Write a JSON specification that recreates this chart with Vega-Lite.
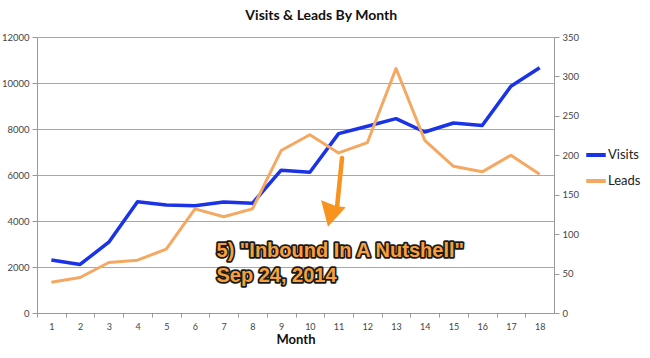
{
  "$schema": "https://vega.github.io/schema/vega-lite/v6.json",
  "width": 517,
  "height": 276,
  "padding": {"left": 1, "top": 9, "right": 5, "bottom": 5},
  "background": "white",
  "title": {"text": "Visits & Leads By Month", "font": "Lato", "fontSize": 14, "fontWeight": "bold", "color": "#111", "anchor": "middle", "frame": "bounds", "offset": 9},
  "datasets": {
    "series": [
      {"month": 1, "series": "Visits", "value": 2300},
      {"month": 2, "series": "Visits", "value": 2110},
      {"month": 3, "series": "Visits", "value": 3080},
      {"month": 4, "series": "Visits", "value": 4840},
      {"month": 5, "series": "Visits", "value": 4700},
      {"month": 6, "series": "Visits", "value": 4660},
      {"month": 7, "series": "Visits", "value": 4830},
      {"month": 8, "series": "Visits", "value": 4770},
      {"month": 9, "series": "Visits", "value": 6210},
      {"month": 10, "series": "Visits", "value": 6120},
      {"month": 11, "series": "Visits", "value": 7800},
      {"month": 12, "series": "Visits", "value": 8120},
      {"month": 13, "series": "Visits", "value": 8450},
      {"month": 14, "series": "Visits", "value": 7870},
      {"month": 15, "series": "Visits", "value": 8260},
      {"month": 16, "series": "Visits", "value": 8150},
      {"month": 17, "series": "Visits", "value": 9860},
      {"month": 18, "series": "Visits", "value": 10660},
      {"month": 1, "series": "Leads", "value": 39},
      {"month": 2, "series": "Leads", "value": 45},
      {"month": 3, "series": "Leads", "value": 64},
      {"month": 4, "series": "Leads", "value": 67},
      {"month": 5, "series": "Leads", "value": 81},
      {"month": 6, "series": "Leads", "value": 132},
      {"month": 7, "series": "Leads", "value": 122},
      {"month": 8, "series": "Leads", "value": 132},
      {"month": 9, "series": "Leads", "value": 206},
      {"month": 10, "series": "Leads", "value": 226},
      {"month": 11, "series": "Leads", "value": 203},
      {"month": 12, "series": "Leads", "value": 216},
      {"month": 13, "series": "Leads", "value": 310},
      {"month": 14, "series": "Leads", "value": 219},
      {"month": 15, "series": "Leads", "value": 186},
      {"month": 16, "series": "Leads", "value": 179},
      {"month": 17, "series": "Leads", "value": 200},
      {"month": 18, "series": "Leads", "value": 176}
    ],
    "notes": [
      {"month": 6.75, "value": 2674, "label": "5) \"Inbound In A Nutshell\""},
      {"month": 6.75, "value": 1630, "label": "Sep 24, 2014"}
    ],
    "arrow": [
      {"month": 11.12, "value": 6739, "month2": 10.95, "value2": 4652}
    ],
    "head": [
      {"month": 10.82, "value": 4326}
    ]
  },
  "encoding": {
    "x": {
      "field": "month",
      "type": "quantitative",
      "scale": {"domain": [0.5, 18.5], "nice": false, "zero": false},
      "axis": {
        "values": [1, 2, 3, 4, 5, 6, 7, 8, 9, 10, 11, 12, 13, 14, 15, 16, 17, 18],
        "grid": false,
        "tickOffset": -14.36,
        "labelOffset": 14.36,
        "tickSize": 4,
        "tickColor": "#999",
        "domainColor": "#999",
        "labelFont": "Lato",
        "labelFontSize": 9,
        "labelColor": "#444",
        "labelPadding": 5,
        "title": "Month",
        "titleFont": "Lato",
        "titleFontSize": 13,
        "titleFontWeight": "bold",
        "titleColor": "#111",
        "titlePadding": 2
      }
    }
  },
  "layer": [
    {
      "layer": [
        {
          "data": {"name": "series"},
          "transform": [{"filter": "datum.series === 'Visits'"}],
          "mark": {"type": "line", "strokeWidth": 3.5, "strokeJoin": "round"},
          "encoding": {
            "y": {
              "field": "value",
              "type": "quantitative",
              "scale": {"domain": [0, 12000], "nice": false},
              "axis": {
                "values": [0, 2000, 4000, 6000, 8000, 10000, 12000],
                "format": "d",
                "grid": true,
                "gridColor": "#a8a8a8",
                "gridWidth": 1,
                "tickColor": "#999",
                "tickSize": 5,
                "domainColor": "#999",
                "labelFont": "Lato",
                "labelFontSize": 9.5,
                "labelColor": "#444",
                "labelPadding": 3,
                "title": null
              }
            },
            "color": {
              "field": "series",
              "type": "nominal",
              "scale": {"domain": ["Visits", "Leads"], "range": ["#1a33e6", "#f4a862"]},
              "legend": {
                "title": null,
                "orient": "none",
                "legendX": 547,
                "legendY": 106,
                "symbolType": "stroke",
                "symbolStrokeWidth": 4,
                "symbolSize": 380,
                "labelFont": "Lato",
                "labelFontSize": 13,
                "labelColor": "#222",
                "labelOffset": 0,
                "rowPadding": 6
              }
            }
          }
        },
        {
          "data": {"name": "arrow"},
          "mark": {"type": "rule", "color": "#f7931e", "strokeWidth": 4.5, "strokeCap": "round"},
          "encoding": {
            "y": {"field": "value", "type": "quantitative"},
            "x2": {"field": "month2"},
            "y2": {"field": "value2"}
          }
        },
        {
          "data": {"name": "head"},
          "mark": {"type": "point", "shape": "M-0.41,1L-0.93,-1L0.19,-0.56L0.93,-0.48Z", "size": 700, "filled": true, "color": "#f7931e", "opacity": 1},
          "encoding": {
            "y": {"field": "value", "type": "quantitative"}
          }
        },
        {
          "data": {"name": "notes"},
          "mark": {"type": "text", "font": "Liberation Sans", "fontSize": 20, "fontWeight": "bold", "align": "left", "baseline": "middle", "stroke": "#1a1a1a", "strokeWidth": 3.5, "strokeJoin": "round", "fill": "#1a1a1a"},
          "encoding": {
            "y": {"field": "value", "type": "quantitative"},
            "text": {"field": "label"}
          }
        },
        {
          "data": {"name": "notes"},
          "mark": {"type": "text", "font": "Liberation Sans", "fontSize": 20, "fontWeight": "bold", "align": "left", "baseline": "middle", "fill": "#f7a03c"},
          "encoding": {
            "y": {"field": "value", "type": "quantitative"},
            "text": {"field": "label"}
          }
        }
      ]
    },
    {
      "data": {"name": "series"},
      "transform": [{"filter": "datum.series === 'Leads'"}],
      "mark": {"type": "line", "strokeWidth": 3, "strokeJoin": "round"},
      "encoding": {
        "y": {
          "field": "value",
          "type": "quantitative",
          "scale": {"domain": [0, 350], "nice": false},
          "axis": {
            "orient": "right",
            "values": [0, 50, 100, 150, 200, 250, 300, 350],
            "grid": false,
            "tickColor": "#999",
            "tickSize": 5,
            "domainColor": "#999",
            "labelFont": "Lato",
            "labelFontSize": 9.5,
            "labelColor": "#444",
            "labelPadding": 3,
            "title": null
          }
        },
        "color": {"field": "series", "type": "nominal"}
      }
    }
  ],
  "resolve": {"scale": {"y": "independent"}},
  "config": {"view": {"stroke": null}}
}
